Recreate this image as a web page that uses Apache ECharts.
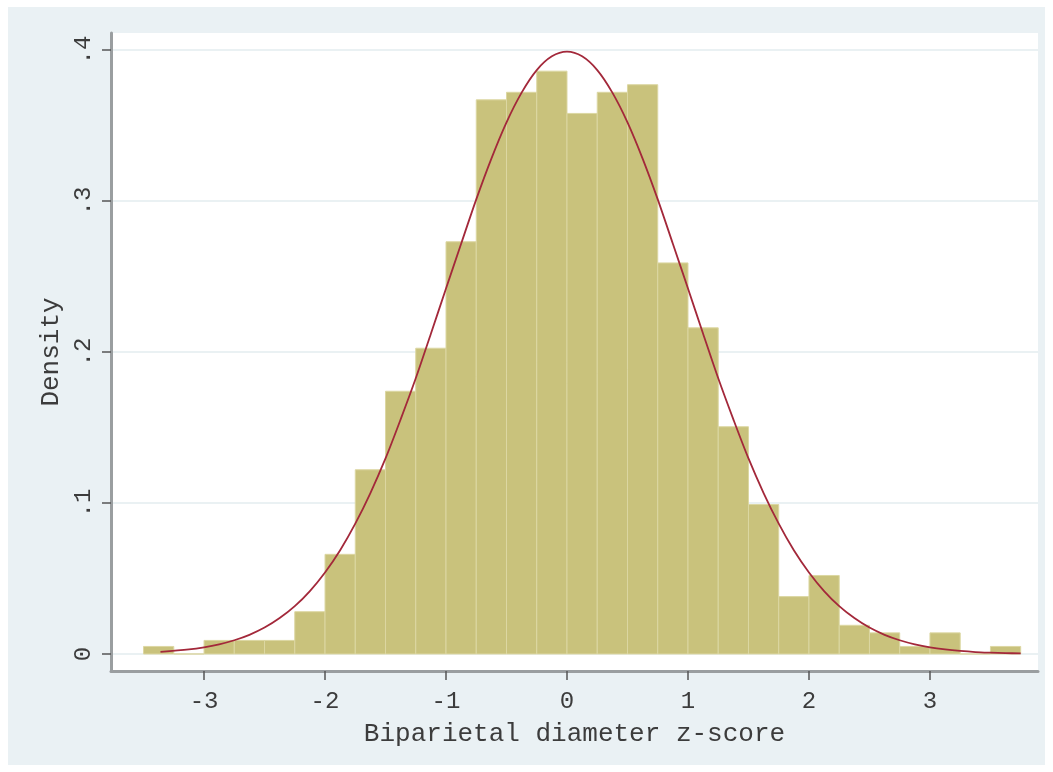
<!DOCTYPE html>
<html style="height: 100%">
   <head>
       <meta charset="utf-8">
   </head>
   <body style="height: 100%; margin: 0">
       <div id="container" style="width: 1053px; height: 772px"></div>
       <script type="text/javascript" src="https://cdn.jsdelivr.net/npm/echarts@6/dist/echarts.min.js"></script>
       <script type="text/javascript">
var dom = document.getElementById("container");
var myChart = echarts.init(dom);

// histogram bins (left edge), width 0.25
var binStart = [-3.5, -3.25, -3.0, -2.75, -2.5, -2.25, -2.0, -1.75, -1.5, -1.25,
  -1.0, -0.75, -0.5, -0.25, 0, 0.25, 0.5, 0.75, 1.0, 1.25,
  1.5, 1.75, 2.0, 2.25, 2.5, 2.75, 3.0, 3.25, 3.5];
var binWidth = 0.25;
var density = [0.005, 0, 0.009, 0.009, 0.009, 0.028, 0.066, 0.122, 0.174, 0.2025,
  0.273, 0.367, 0.372, 0.386, 0.358, 0.372, 0.377, 0.259, 0.216, 0.1505,
  0.099, 0.038, 0.052, 0.019, 0.014, 0.005, 0.014, 0, 0.005];

// normal density curve
var curveX = [-3.36, -3.125, -3.0, -2.875, -2.75, -2.625, -2.5, -2.375, -2.25, -2.125,
  -2.0, -1.875, -1.75, -1.625, -1.5, -1.375, -1.25, -1.125, -1.0, -0.875,
  -0.75, -0.625, -0.5, -0.375, -0.25, -0.125, 0, 0.125, 0.25, 0.375,
  0.5, 0.625, 0.75, 0.875, 1.0, 1.125, 1.25, 1.375, 1.5, 1.625,
  1.75, 1.875, 2.0, 2.125, 2.25, 2.375, 2.5, 2.625, 2.75, 2.875,
  3.0, 3.125, 3.25, 3.375, 3.5, 3.625, 3.75];
var curveY = [0.0014, 0.003, 0.0044, 0.0064, 0.0091, 0.0127, 0.0175, 0.0238, 0.0317, 0.0417,
  0.054, 0.0687, 0.0863, 0.1066, 0.1295, 0.1554, 0.1826, 0.2121, 0.242, 0.2717,
  0.3011, 0.3281, 0.3521, 0.3718, 0.3867, 0.3958, 0.3989, 0.3958, 0.3867, 0.3718,
  0.3521, 0.3281, 0.3011, 0.2717, 0.242, 0.2121, 0.1826, 0.1554, 0.1295, 0.1066,
  0.0863, 0.0687, 0.054, 0.0417, 0.0317, 0.0238, 0.0175, 0.0127, 0.0091, 0.0064,
  0.0044, 0.003, 0.002, 0.0013, 0.0009, 0.0006, 0.0004];

var xTicks = [-3, -2, -1, 0, 1, 2, 3];
var yTicks = [0, 0.1, 0.2, 0.3, 0.4];
var yTickLabels = ['0', '.1', '.2', '.3', '.4'];

var histData = binStart.map(function (s, i) {
  return [s, s + binWidth, density[i]];
});
var curveData = curveX.map(function (x, i) {
  return [x, curveY[i]];
});

var font = '"Liberation Mono", "DejaVu Sans Mono", monospace';

option = {
    backgroundColor: '#ffffff',
    animation: false,
    graphic: [
      {
        type: 'rect',
        left: 8, top: 7,
        shape: {width: 1037, height: 758},
        style: {fill: '#eaf1f4'},
        z: -10
      }
    ],
    grid: {
        left: 111,
        right: 15,
        top: 33,
        bottom: 101,
        show: true,
        backgroundColor: '#ffffff',
        borderWidth: 0
    },
    xAxis: {
        type: 'value',
        min: -3.769,
        max: 3.893,
        name: 'Biparietal diameter z-score',
        nameLocation: 'middle',
        nameGap: 50,
        nameTextStyle: {fontFamily: font, fontSize: 26, color: '#3c3c3c'},
        axisLine: {onZero: false, lineStyle: {color: '#9a9ea0', width: 3}},
        axisTick: {show: true, length: 9, customValues: xTicks, lineStyle: {color: '#555', width: 1.5}},
        axisLabel: {
          customValues: xTicks,
          margin: 19,
          fontFamily: font, fontSize: 24, color: '#3c3c3c',
          formatter: function (v) { return String(v); }
        },
        splitLine: {show: false}
    },
    yAxis: {
        type: 'value',
        min: -0.01126,
        max: 0.41126,
        name: 'Density',
        nameLocation: 'middle',
        nameGap: 46,
        nameTextStyle: {fontFamily: font, fontSize: 26, color: '#3c3c3c'},
        axisLine: {show: true, onZero: false, lineStyle: {color: '#9a9ea0', width: 3}},
        axisTick: {show: true, length: 9, customValues: yTicks, lineStyle: {color: '#555', width: 1.5}},
        axisLabel: {
          customValues: yTicks,
          rotate: 90,
          margin: 15,
          fontFamily: font, fontSize: 24, color: '#3c3c3c',
          formatter: function (v) {
            var i = yTicks.indexOf(Math.round(v * 10) / 10);
            return i >= 0 ? yTickLabels[i] : '';
          }
        },
        splitLine: {show: true, lineStyle: {color: '#e3ecef', width: 1.5}}
    },
    series: [
      {
        name: 'hist',
        type: 'custom',
        renderItem: function (params, api) {
          var p0 = api.coord([api.value(0), api.value(2)]);
          var p1 = api.coord([api.value(1), 0]);
          return {
            type: 'rect',
            shape: {x: p0[0], y: p0[1], width: p1[0] - p0[0], height: p1[1] - p0[1]},
            style: {fill: '#c9c27c', stroke: '#dcd7a2', lineWidth: 1}
          };
        },
        encode: {x: [0, 1], y: 2},
        data: histData,
        z: 2
      },
      {
        name: 'normal',
        type: 'line',
        smooth: 0.3,
        showSymbol: false,
        lineStyle: {color: '#a3283a', width: 1.8},
        data: curveData,
        z: 3
      }
    ]
};

myChart.setOption(option, true);
       </script>
   </body>
</html>
